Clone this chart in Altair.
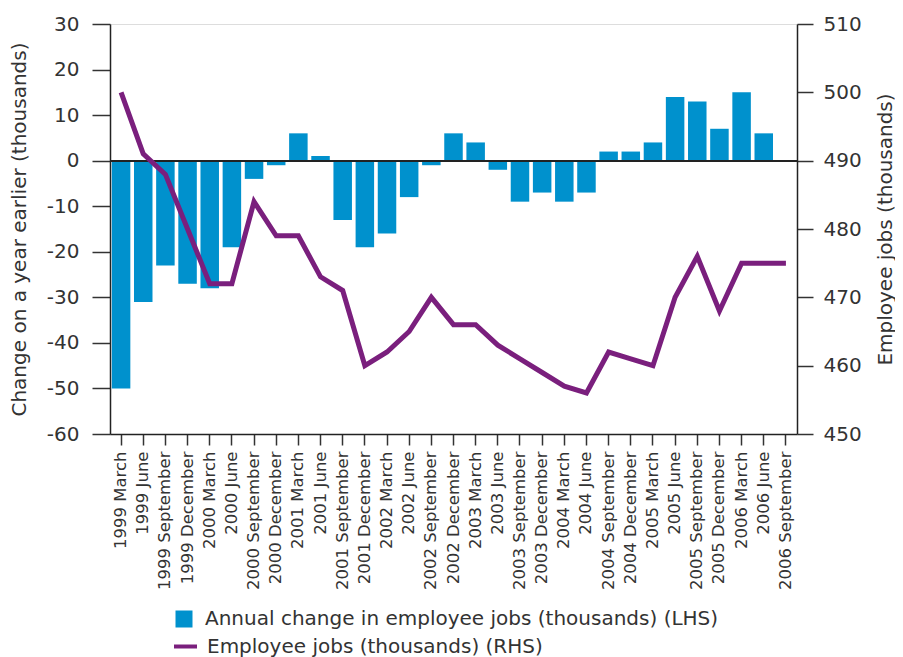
import altair as alt
import pandas as pd

periods = [
    "1999 March", "1999 June", "1999 September", "1999 December",
    "2000 March", "2000 June", "2000 September", "2000 December",
    "2001 March", "2001 June", "2001 September", "2001 December",
    "2002 March", "2002 June", "2002 September", "2002 December",
    "2003 March", "2003 June", "2003 September", "2003 December",
    "2004 March", "2004 June", "2004 September", "2004 December",
    "2005 March", "2005 June", "2005 September", "2005 December",
    "2006 March", "2006 June", "2006 September",
]
annual_change = [-50, -31, -23, -27, -28, -19, -4, -1, 6, 1, -13, -19, -16, -8, -1,
                 6, 4, -2, -9, -7, -9, -7, 2, 2, 4, 14, 13, 7, 15, 6, None]
employee_jobs = [500, 491, 488, 480, 472, 472, 484, 479, 479, 473, 471, 460, 462, 465, 470,
                 466, 466, 463, 461, 459, 457, 456, 462, 461, 460, 470, 476, 468, 475, 475, 475]
left_ticks = [-60, -50, -40, -30, -20, -10, 0, 10, 20, 30]
right_ticks = [450, 460, 470, 480, 490, 500, 510]

bar_label = "Annual change in employee jobs (thousands) (LHS)"
line_label = "Employee jobs (thousands) (RHS)"

BLUE = "#0091CD"
PURPLE = "#7A1F7D"
TXT = "#333333"
FONT = "DejaVu Sans"

df = pd.DataFrame({
    "period": periods,
    "change": annual_change,
    "jobs": employee_jobs,
    "bar_series": [bar_label] * len(periods),
    "line_series": [line_label] * len(periods),
})

x_enc = alt.X(
    "period:N", sort=periods,
    scale=alt.Scale(paddingInner=0.165, paddingOuter=0.0825),
    axis=alt.Axis(title="", labelAngle=270, tickSize=11, labelPadding=6,
                  labelFontSize=16.5, labelColor=TXT, labelFont=FONT,
                  domainColor="#222222", domainWidth=1.5,
                  tickColor="#333333", tickWidth=1.5),
)

bars = alt.Chart(df).mark_bar().encode(
    x=x_enc,
    y=alt.Y("change:Q",
            scale=alt.Scale(domain=[-60, 30], nice=False, zero=False),
            axis=alt.Axis(values=left_ticks, tickSize=18, labelPadding=13,
                          labelExpr="datum.value + ''",
                          labelFontSize=20, labelColor=TXT, labelFont=FONT,
                          domainColor="#222222", domainWidth=1.5,
                          tickColor="#333333", tickWidth=1.5, grid=False,
                          title="Change on a year earlier (thousands)",
                          titleFontSize=20, titleFontWeight="normal", titleColor=TXT,
                          titleFont=FONT, titleAngle=270, titleX=-91, titleY=205,
                          titleAlign="center", titleBaseline="middle")),
    color=alt.Color("bar_series:N",
                    scale=alt.Scale(domain=[bar_label], range=[BLUE]),
                    legend=alt.Legend(title=None, orient="none", legendX=64, legendY=585,
                                      symbolType="square", symbolSize=289,
                                      symbolStrokeWidth=0, labelFontSize=20,
                                      labelOffset=11, labelColor=TXT, labelFont=FONT,
                                      padding=0, labelLimit=0)),
)

zero = alt.Chart(df).mark_rule(color="#222222", strokeWidth=1.5).encode(
    y=alt.datum(0)
)

line = alt.Chart(df).mark_line(strokeWidth=5, strokeJoin="miter", strokeCap="butt").encode(
    x=x_enc,
    y=alt.Y("jobs:Q",
            scale=alt.Scale(domain=[450, 510], nice=False, zero=False),
            axis=alt.Axis(orient="right", values=right_ticks, tickSize=16, labelPadding=10,
                          labelFontSize=20, labelColor=TXT, labelFont=FONT,
                          domainColor="#222222", domainWidth=1.5,
                          tickColor="#333333", tickWidth=1.5, grid=False,
                          title="Employee jobs (thousands)",
                          titleFontSize=20, titleFontWeight="normal", titleColor=TXT,
                          titleFont=FONT, titleAngle=270, titleX=88, titleY=205,
                          titleAlign="center", titleBaseline="middle")),
    stroke=alt.Stroke("line_series:N",
                      scale=alt.Scale(domain=[line_label], range=[PURPLE]),
                      legend=alt.Legend(title=None, orient="none", legendX=62, legendY=609,
                                        symbolType="stroke", symbolSize=529,
                                        symbolStrokeWidth=4, labelFontSize=20,
                                        labelOffset=8, labelColor=TXT, labelFont=FONT,
                                        padding=0, labelLimit=0)),
)

chart = alt.layer(alt.layer(bars, zero), line).resolve_scale(
    y="independent"
).properties(
    width=687, height=410,
    autosize=alt.AutoSizeParams(type="none"),
    padding={"left": 102, "top": 16, "right": 98, "bottom": 224},
).configure_view(strokeWidth=0).configure(font=FONT)

chart.save("out.html", embed_options={"renderer": "svg", "actions": False})
